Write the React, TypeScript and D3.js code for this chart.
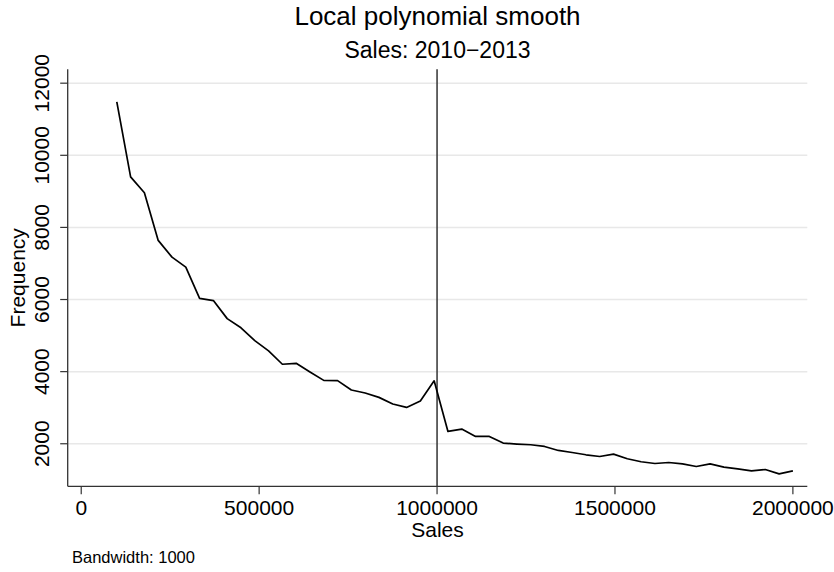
import React from "react";
import * as d3 from "d3";

const salesGrid: number[] = [
  100000, 138776, 177551, 216327, 255102, 293878, 332653, 371429, 410204, 448980,
  487755, 526531, 565306, 604082, 642857, 681633, 720408, 759184, 797959, 836735,
  875510, 914286, 953061, 991837, 1030612, 1069388, 1108163, 1146939, 1185714, 1224490,
  1263265, 1302041, 1340816, 1379592, 1418367, 1457143, 1495918, 1534694, 1573469, 1612245,
  1651020, 1689796, 1728571, 1767347, 1806122, 1844898, 1883673, 1922449, 1961224, 2000000,
];

const frequency: number[] = [
  11480, 9400, 8960, 7640, 7175, 6900, 6030, 5970, 5470, 5215,
  4860, 4575, 4205, 4230, 3990, 3758, 3750, 3490, 3408, 3286,
  3102, 3008, 3186, 3745, 2341, 2408, 2203, 2203, 2019, 1992,
  1972, 1925, 1814, 1758, 1694, 1647, 1712, 1583, 1500, 1453,
  1480, 1444, 1370, 1444, 1352, 1305, 1250, 1286, 1166, 1250,
];

const xTicks: number[] = [0, 500000, 1000000, 1500000, 2000000];
const yTicks: number[] = [2000, 4000, 6000, 8000, 10000, 12000];
const cutoff = 1000000;

const titleText = "Local polynomial smooth";
const subtitleText = "Sales: 2010\u22122013";
const xLabel = "Sales";
const yLabel = "Frequency";
const noteText = "Bandwidth: 1000";

export default function App() {
  const W = 834;
  const H = 572;
  const left = 67.7;
  const right = 807.3;
  const top = 69.3;
  const bottom = 486.3;
  const font = "'Liberation Sans', Arial, Helvetica, sans-serif";

  const x = d3.scaleLinear().domain([-38000, 2040500]).range([left, right]);
  const y = d3.scaleLinear().domain([820, 12385]).range([bottom, top]);

  const pts = salesGrid.map((s, i) => [s, frequency[i]] as [number, number]);
  const line = d3
    .line<[number, number]>()
    .x((d) => x(d[0]))
    .y((d) => y(d[1]));

  const cx = (left + right) / 2;
  const cy = (top + bottom) / 2;

  return (
    <svg
      width={W}
      height={H}
      style={{ position: "absolute", left: 0, top: 0, display: "block", background: "#fff" }}
      fontFamily={font}
    >
      <rect x={0} y={0} width={W} height={H} fill="#fff" />
      {yTicks.map((t) => (
        <line key={"g" + t} x1={left} x2={right} y1={y(t)} y2={y(t)} stroke="#e8e8e8" strokeWidth={1.5} />
      ))}
      <line x1={left} x2={left} y1={top} y2={bottom} stroke="#333" strokeWidth={1.3} />
      <line x1={left} x2={right} y1={bottom} y2={bottom} stroke="#333" strokeWidth={1.3} />
      {yTicks.map((t) => (
        <g key={"yt" + t}>
          <line x1={left - 7.5} x2={left} y1={y(t)} y2={y(t)} stroke="#333" strokeWidth={1.2} />
          <text
            x={49.3}
            y={y(t)}
            transform={`rotate(-90, 49.3, ${y(t)})`}
            textAnchor="middle"
            fontSize={21}
            fill="#000"
          >
            {t}
          </text>
        </g>
      ))}
      {xTicks.map((t) => (
        <g key={"xt" + t}>
          <line x1={x(t)} x2={x(t)} y1={bottom} y2={bottom + 8} stroke="#333" strokeWidth={1.2} />
          <text x={x(t)} y={515} textAnchor="middle" fontSize={21} fill="#000">
            {t}
          </text>
        </g>
      ))}
      <line x1={x(cutoff)} x2={x(cutoff)} y1={top} y2={bottom} stroke="#333" strokeWidth={1.5} />
      <path d={line(pts) || ""} fill="none" stroke="#000" strokeWidth={1.7} strokeLinejoin="round" />
      <text x={cx} y={537} textAnchor="middle" fontSize={21} fill="#000">
        {xLabel}
      </text>
      <text
        x={24.7}
        y={cy}
        transform={`rotate(-90, 24.7, ${cy})`}
        textAnchor="middle"
        fontSize={21}
        fill="#000"
      >
        {yLabel}
      </text>
      <text x={cx} y={25} textAnchor="middle" fontSize={26} fill="#000">
        {titleText}
      </text>
      <text x={cx} y={58.3} textAnchor="middle" fontSize={23} fill="#000">
        {subtitleText}
      </text>
      <text x={72} y={563.3} fontSize={16.5} fill="#000">
        {noteText}
      </text>
    </svg>
  );
}
